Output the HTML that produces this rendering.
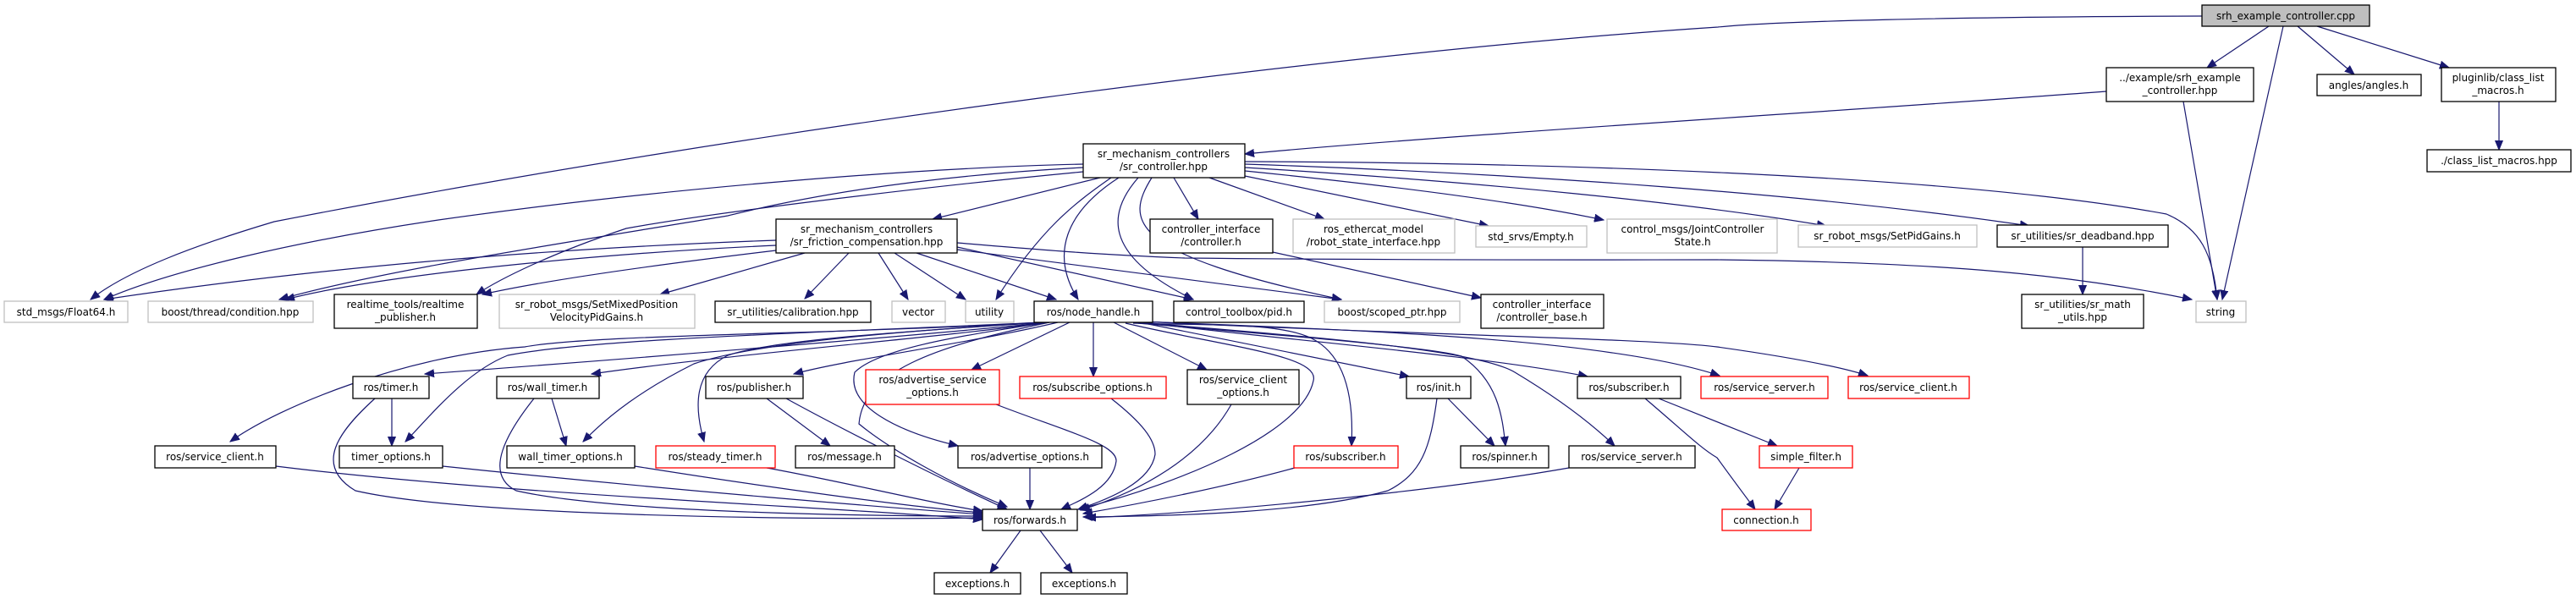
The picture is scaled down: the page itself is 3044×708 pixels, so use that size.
<!DOCTYPE html>
<html><head><meta charset="utf-8"><style>
html,body{margin:0;padding:0;background:#fff;}
svg{display:block}
text{font-family:"DejaVu Sans","Liberation Sans",sans-serif;font-size:12px;fill:#000;text-anchor:middle;}
.e{fill:none;stroke:#191970;stroke-width:1.2;marker-end:url(#a)}
.n{fill:#fff;stroke:#000;stroke-width:1.3}
.g{fill:#fff;stroke:#bfbfbf;stroke-width:1.3}
.r{fill:#fff;stroke:#ff0000;stroke-width:1.3}
.s{fill:#bfbfbf;stroke:#000;stroke-width:1.3}
</style></head><body>
<svg width="3044" height="708" viewBox="0 0 3044 708" xmlns="http://www.w3.org/2000/svg">
<defs><marker id="a" markerUnits="userSpaceOnUse" markerWidth="12" markerHeight="10" refX="11" refY="5" orient="auto"><path d="M0,0.5 L11,5 L0,9.5 z" fill="#191970" stroke="#191970"/></marker></defs>

<g>
<path class="e" d="M2681,31 L2608,80"/>
<path class="e" d="M2715,31 L2782,88"/>
<path class="e" d="M2738,31 L2894,80"/>
<path class="e" d="M2698,31 L2626,354"/>
<path class="e" d="M2602,19 C2300,20 2100,25 2030,32 C1600,60 900,150 324,262 C230,290 150,320 107,354"/>
<path class="e" d="M2489,108 C2200,130 1700,160 1471,182"/>
<path class="e" d="M2580,120 L2620,354"/>
<path class="e" d="M2953,120 L2953,177"/>
<path class="e" d="M2461,292 L2461,348"/>
<path class="e" d="M1504,298 L1750,352"/>

<path class="e" d="M1300,210 L1102,259"/>
<path class="e" d="M1280,194 C1100,198 800,220 518,260 C350,285 200,320 123,354"/>
<path class="e" d="M1280,198 C1150,205 1000,220 860,255 C650,290 450,320 330,354"/>
<path class="e" d="M1280,203 C1100,220 850,250 740,270 C650,300 590,330 563,348"/>
<path class="e" d="M1313,210 C1270,240 1230,270 1177,354"/>
<path class="e" d="M1322,210 C1260,250 1240,300 1274,354"/>
<path class="e" d="M1345,210 C1310,250 1300,300 1410,354"/>
<path class="e" d="M1361,210 C1330,260 1330,300 1585,354"/>
<path class="e" d="M1387,210 L1416,259"/>
<path class="e" d="M1429,210 L1565,259"/>
<path class="e" d="M1471,208 L1759,267"/>
<path class="e" d="M1471,202 C1650,220 1800,240 1895,260"/>
<path class="e" d="M1471,198 C1750,215 2000,240 2158,267"/>
<path class="e" d="M1471,194 C1800,205 2150,230 2398,267"/>
<path class="e" d="M1471,191 C1800,192 2300,205 2560,253 C2600,270 2615,300 2620,354"/>

<path class="e" d="M917,284 C750,290 450,305 123,354"/>
<path class="e" d="M917,290 C700,300 450,325 337,354"/>
<path class="e" d="M917,296 C800,310 650,330 570,348"/>
<path class="e" d="M951,299 L780,348"/>
<path class="e" d="M1003,299 L951,353"/>
<path class="e" d="M1038,299 L1073,354"/>
<path class="e" d="M1057,299 L1141,354"/>
<path class="e" d="M1083,299 L1248,354"/>
<path class="e" d="M1131,292 L1410,354"/>
<path class="e" d="M1131,295 L1585,354"/>
<path class="e" d="M1131,287 C1250,297 1300,301 1400,305 C1700,308 1900,307 2029,307 C2300,310 2450,325 2590,354"/>

<path class="e" d="M1264,381 L1148,437"/>
<path class="e" d="M1292,381 L1292,445"/>
<path class="e" d="M1316,381 L1426,437"/>
<path class="e" d="M1339,382 C1420,385 1510,380 1550,400 C1590,420 1600,470 1597,527"/>
<path class="e" d="M1352,382 L1665,445"/>
<path class="e" d="M1345,382 C1500,395 1690,410 1727,421 C1770,450 1775,490 1779,527"/>
<path class="e" d="M1350,381 C1500,400 1750,420 1876,445"/>
<path class="e" d="M1348,381 C1500,395 1740,410 1790,440 C1840,470 1880,500 1908,527"/>
<path class="e" d="M1350,380 C1600,390 1900,400 2032,444"/>
<path class="e" d="M1350,380 C1650,395 1950,400 2029,410 C2100,420 2170,432 2207,444"/>
<path class="e" d="M1330,382 C1450,410 1560,420 1552,450 C1540,510 1400,570 1274,602"/>
<path class="e" d="M1240,381 C1100,395 800,420 502,442"/>
<path class="e" d="M1240,381 C1100,400 850,420 699,442"/>
<path class="e" d="M1250,381 C1150,405 1000,425 938,442"/>
<path class="e" d="M1230,381 C1000,395 700,395 620,410 C480,420 330,480 272,522"/>
<path class="e" d="M1232,381 C1000,392 700,400 600,420 C550,440 510,490 479,522"/>
<path class="e" d="M1234,381 C1000,395 880,410 820,430 C760,460 720,490 689,522"/>
<path class="e" d="M1236,381 C1100,390 920,400 860,420 C820,440 820,480 832,522"/>
<path class="e" d="M1238,381 C1150,395 1040,410 1010,440 C1000,480 1060,510 1132,527"/>
<path class="e" d="M1240,381 C1100,410 1020,440 1015,501 C1050,530 1120,570 1190,599"/>

<path class="e" d="M463,471 L463,527"/>
<path class="e" d="M443,471 C400,510 370,550 420,580 C550,610 950,615 1161,612"/>
<path class="e" d="M652,471 L669,527"/>
<path class="e" d="M631,471 C600,510 570,560 610,580 C720,605 1000,610 1161,610"/>
<path class="e" d="M906,471 L981,527"/>
<path class="e" d="M929,471 C1000,510 1120,570 1190,602"/>
<path class="e" d="M326,551 C600,585 1000,600 1161,614"/>
<path class="e" d="M523,551 C800,580 1050,600 1161,608"/>
<path class="e" d="M750,551 C900,575 1080,600 1161,606"/>
<path class="e" d="M906,553 C1000,570 1100,595 1161,604"/>
<path class="e" d="M1177,478 C1260,510 1320,525 1319,545 C1315,575 1280,590 1254,602"/>
<path class="e" d="M1217,553 L1217,602"/>
<path class="e" d="M1313,471 C1350,500 1365,520 1365,537 C1360,570 1310,590 1274,602"/>
<path class="e" d="M1455,478 C1420,540 1350,580 1277,603"/>
<path class="e" d="M1530,553 C1450,575 1350,595 1280,607"/>
<path class="e" d="M1698,471 C1690,530 1680,560 1640,580 C1550,605 1400,610 1280,611"/>
<path class="e" d="M1711,471 L1766,527"/>
<path class="e" d="M1854,553 C1700,580 1450,605 1284,612"/>
<path class="e" d="M1960,471 L2100,527"/>
<path class="e" d="M1944,471 C1990,510 2010,530 2029,541 C2050,570 2065,590 2074,602"/>
<path class="e" d="M2126,553 L2097,602"/>
<path class="e" d="M1206,627 L1170,677"/>
<path class="e" d="M1229,627 L1267,677"/>
</g>

<g>
<rect class="s" x="2602" y="6" width="198" height="25"/><text x="2701" y="23">srh_example_controller.cpp</text>
<rect class="n" x="2489" y="80" width="174" height="40"/><text x="2576" y="96">../example/srh_example</text><text x="2576" y="111">_controller.hpp</text>
<rect class="n" x="2738" y="88" width="123" height="25"/><text x="2799" y="105">angles/angles.h</text>
<rect class="n" x="2885" y="80" width="135" height="40"/><text x="2952" y="96">pluginlib/class_list</text><text x="2952" y="111">_macros.h</text>
<rect class="n" x="2868" y="177" width="170" height="26"/><text x="2953" y="194">./class_list_macros.hpp</text>

<rect class="n" x="1280" y="170" width="191" height="40"/><text x="1375" y="186">sr_mechanism_controllers</text><text x="1375" y="201">/sr_controller.hpp</text>
<rect class="n" x="917" y="259" width="214" height="40"/><text x="1024" y="275">sr_mechanism_controllers</text><text x="1024" y="290">/sr_friction_compensation.hpp</text>
<rect class="n" x="1359" y="259" width="145" height="40"/><text x="1431" y="275">controller_interface</text><text x="1431" y="290">/controller.h</text>
<rect class="g" x="1528" y="259" width="191" height="40"/><text x="1623" y="275">ros_ethercat_model</text><text x="1623" y="290">/robot_state_interface.hpp</text>
<rect class="g" x="1744" y="267" width="131" height="25"/><text x="1809" y="284">std_srvs/Empty.h</text>
<rect class="g" x="1899" y="259" width="201" height="40"/><text x="2000" y="275">control_msgs/JointController</text><text x="2000" y="290">State.h</text>
<rect class="g" x="2125" y="266" width="211" height="26"/><text x="2230" y="283">sr_robot_msgs/SetPidGains.h</text>
<rect class="n" x="2360" y="266" width="202" height="26"/><text x="2461" y="283">sr_utilities/sr_deadband.hpp</text>
<rect class="n" x="2389" y="348" width="144" height="40"/><text x="2461" y="364">sr_utilities/sr_math</text><text x="2461" y="379">_utils.hpp</text>
<rect class="g" x="2595" y="356" width="59" height="25"/><text x="2624" y="373">string</text>

<rect class="g" x="5" y="356" width="146" height="25"/><text x="78" y="373">std_msgs/Float64.h</text>
<rect class="g" x="175" y="356" width="195" height="25"/><text x="272" y="373">boost/thread/condition.hpp</text>
<rect class="n" x="395" y="348" width="169" height="40"/><text x="479" y="364">realtime_tools/realtime</text><text x="479" y="379">_publisher.h</text>
<rect class="g" x="590" y="348" width="231" height="40"/><text x="705" y="364">sr_robot_msgs/SetMixedPosition</text><text x="705" y="379">VelocityPidGains.h</text>
<rect class="n" x="845" y="356" width="184" height="25"/><text x="937" y="373">sr_utilities/calibration.hpp</text>
<rect class="g" x="1054" y="356" width="63" height="25"/><text x="1085" y="373">vector</text>
<rect class="g" x="1141" y="356" width="57" height="25"/><text x="1169" y="373">utility</text>
<rect class="n" x="1222" y="356" width="140" height="25"/><text x="1292" y="373">ros/node_handle.h</text>
<rect class="n" x="1387" y="356" width="154" height="25"/><text x="1464" y="373">control_toolbox/pid.h</text>
<rect class="g" x="1565" y="356" width="160" height="25"/><text x="1645" y="373">boost/scoped_ptr.hpp</text>
<rect class="n" x="1750" y="348" width="145" height="40"/><text x="1822" y="364">controller_interface</text><text x="1822" y="379">/controller_base.h</text>

<rect class="n" x="417" y="445" width="90" height="26"/><text x="462" y="462">ros/timer.h</text>
<rect class="n" x="587" y="445" width="121" height="26"/><text x="647" y="462">ros/wall_timer.h</text>
<rect class="n" x="834" y="445" width="115" height="26"/><text x="891" y="462">ros/publisher.h</text>
<rect class="r" x="1023" y="437" width="158" height="41"/><text x="1102" y="453">ros/advertise_service</text><text x="1102" y="468">_options.h</text>
<rect class="r" x="1205" y="445" width="173" height="26"/><text x="1291" y="462">ros/subscribe_options.h</text>
<rect class="n" x="1403" y="437" width="132" height="41"/><text x="1469" y="453">ros/service_client</text><text x="1469" y="468">_options.h</text>
<rect class="n" x="1662" y="445" width="76" height="26"/><text x="1700" y="462">ros/init.h</text>
<rect class="n" x="1864" y="445" width="122" height="26"/><text x="1925" y="462">ros/subscriber.h</text>
<rect class="r" x="2010" y="445" width="150" height="26"/><text x="2085" y="462">ros/service_server.h</text>
<rect class="r" x="2184" y="445" width="143" height="26"/><text x="2255" y="462">ros/service_client.h</text>

<rect class="n" x="183" y="527" width="143" height="26"/><text x="254" y="544">ros/service_client.h</text>
<rect class="n" x="401" y="527" width="122" height="26"/><text x="462" y="544">timer_options.h</text>
<rect class="n" x="599" y="527" width="151" height="26"/><text x="674" y="544">wall_timer_options.h</text>
<rect class="r" x="775" y="527" width="141" height="26"/><text x="845" y="544">ros/steady_timer.h</text>
<rect class="n" x="940" y="527" width="117" height="26"/><text x="998" y="544">ros/message.h</text>
<rect class="n" x="1132" y="527" width="170" height="26"/><text x="1217" y="544">ros/advertise_options.h</text>
<rect class="r" x="1529" y="527" width="123" height="26"/><text x="1590" y="544">ros/subscriber.h</text>
<rect class="n" x="1726" y="527" width="104" height="26"/><text x="1778" y="544">ros/spinner.h</text>
<rect class="n" x="1854" y="527" width="149" height="26"/><text x="1928" y="544">ros/service_server.h</text>
<rect class="r" x="2079" y="527" width="110" height="26"/><text x="2134" y="544">simple_filter.h</text>

<rect class="n" x="1161" y="602" width="112" height="25"/><text x="1217" y="619">ros/forwards.h</text>
<rect class="r" x="2035" y="602" width="105" height="25"/><text x="2087" y="619">connection.h</text>
<rect class="n" x="1104" y="677" width="102" height="25"/><text x="1155" y="694">exceptions.h</text>
<rect class="n" x="1230" y="677" width="102" height="25"/><text x="1281" y="694">exceptions.h</text>
</g>
</svg>
</body></html>
